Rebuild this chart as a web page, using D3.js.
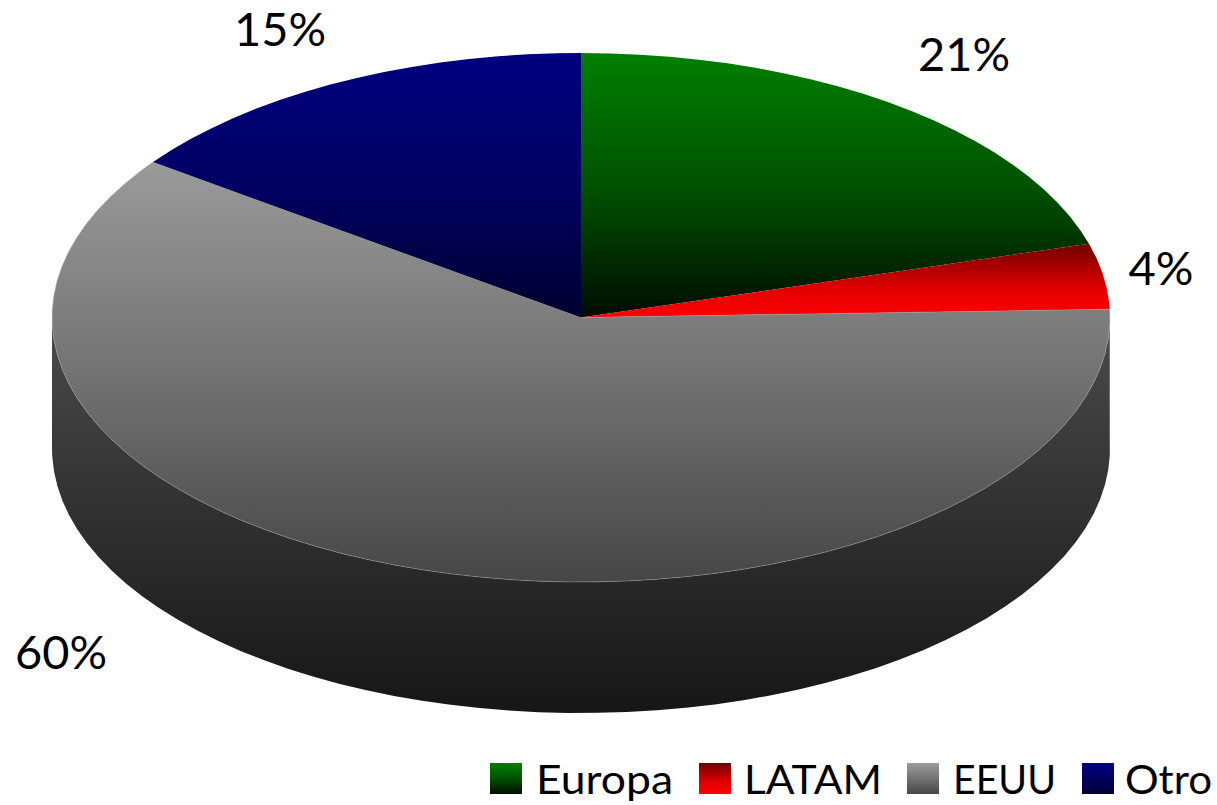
<!DOCTYPE html>
<html><head><meta charset="utf-8">
<script src="https://cdn.jsdelivr.net/npm/d3@7/dist/d3.min.js"></script>
<style>html,body{margin:0;padding:0;background:#fff}svg{display:block}text{font-family:Lato,"Open Sans",sans-serif;fill:#000}</style>
</head><body><svg id="c" width="1217" height="805"></svg>
<script>
const categories = ["Europa","LATAM","EEUU","Otro"];
const values = [20.5,4,60.5,15];
const labels = ["21%","4%","60%","15%"];
const topColors = ["#008000","#700000","#9a9a9a","#000080"];
const midColors = ["#005200","#e00000","#737373","#000062"];
const midOffsets = [0.5,0.6,0.5,0.5];
const bottomColors = ["#000c00","#ff0000","#464646","#000030"];
const labelPos = [[964,71],[1161,285],[61,669],[280,46]];
const labelW = [92,65,92,92];
const legendX = [490,699,907,1082];
const legendTextX = [536,744,953,1125];
const legendTextW = [137,138,103,87];

const svg = d3.select("#c"), defs = svg.append("defs");
const cx=581, cy=317.5, rx=529, ry=264.5, depth=131, step=Math.PI/56;
const x = a => cx + rx*Math.sin(a), y = a => cy - ry*Math.cos(a);
const pts = (a0,a1) => {
  const d = d3.range(a0,a1,step).map(a=>[x(a),y(a)]);
  d.push([x(a1),y(a1)]);
  return d;
};
const line = d3.line();
const pie = d3.pie().sort(null).value(d=>d)(values);

function grad(id,stops){
  const g = defs.append("linearGradient").attr("id",id).attr("x1",0).attr("y1",0).attr("x2",0).attr("y2",1);
  stops.forEach(s=>g.append("stop").attr("offset",s[0]).attr("stop-color",s[1]));
}
categories.forEach((c,i)=>grad("g"+i,[[0,topColors[i]],[midOffsets[i],midColors[i]],[1,bottomColors[i]]]));
grad("side",[[0,"#4c4c4c"],[1,"#161616"]]);

const wS = pie[2].startAngle, wE = Math.PI*1.5;
const arcTop = pts(wS,wE), arcBot = pts(wS,wE).map(p=>[p[0],p[1]+depth]).reverse();
svg.append("path").attr("d",line(arcTop.concat(arcBot))+"Z").attr("fill","url(#side)");

svg.selectAll("path.slice").data(pie).join("path").attr("class","slice")
  .attr("d",d=>line([[cx,cy]].concat(pts(d.startAngle,d.endAngle)))+"Z")
  .attr("fill",(d,i)=>`url(#g${i})`)
  .attr("stroke",(d,i)=>i===2?"#aaaaaa":"none").attr("stroke-width",0.4);

svg.selectAll("text.v").data(labels).join("text").attr("class","v")
  .attr("x",(d,i)=>labelPos[i][0]).attr("y",(d,i)=>labelPos[i][1])
  .attr("text-anchor","middle").attr("font-size",46)
  .attr("textLength",(d,i)=>labelW[i]).attr("lengthAdjust","spacingAndGlyphs").text(d=>d);

const lg = svg.append("g");
categories.forEach((c,i)=>{
  lg.append("rect").attr("x",legendX[i]).attr("y",763).attr("width",32).attr("height",31).attr("fill",`url(#g${i})`);
  lg.append("text").attr("x",legendTextX[i]).attr("y",794).attr("font-size",40)
    .attr("textLength",legendTextW[i]).attr("lengthAdjust","spacingAndGlyphs").text(c);
});
</script></body></html>
